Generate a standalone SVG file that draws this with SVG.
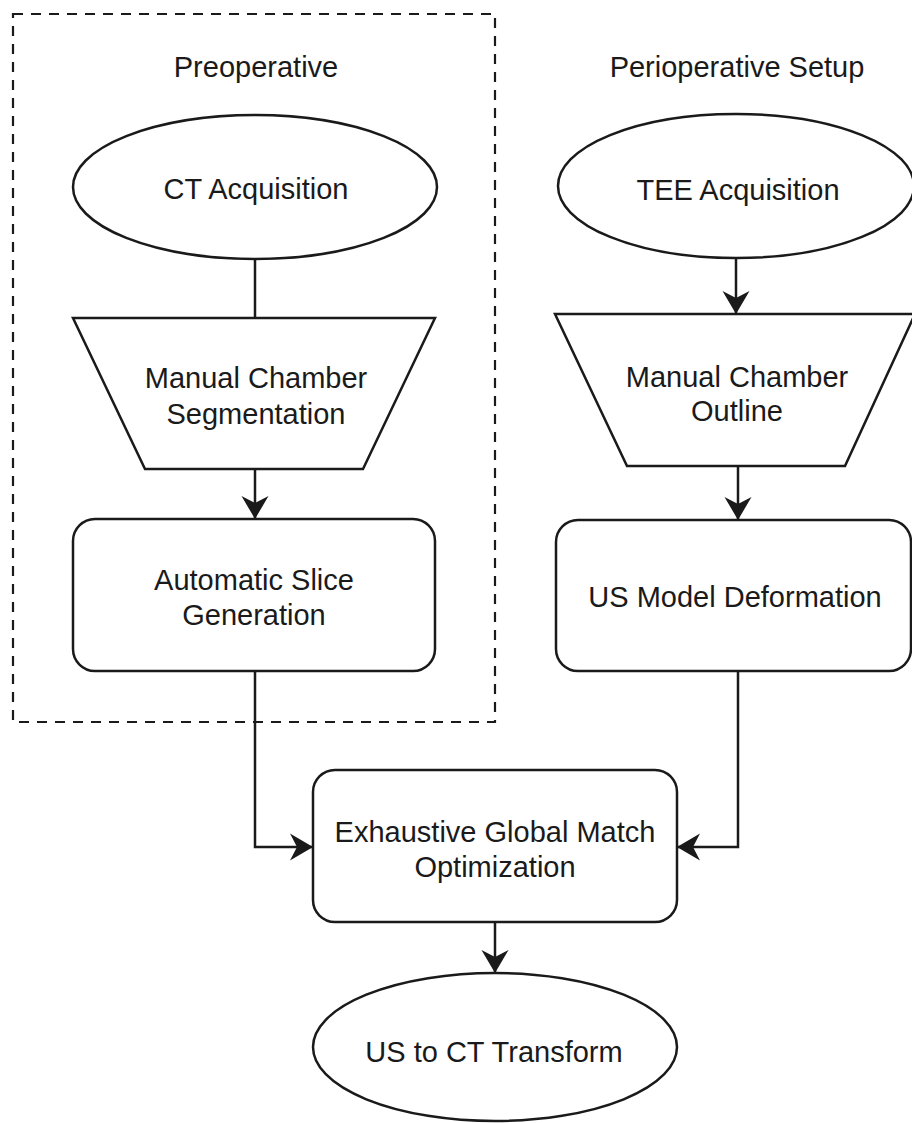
<svg xmlns="http://www.w3.org/2000/svg" width="912" height="1123" viewBox="0 0 912 1123">
  <style>
    .shape { fill: #ffffff; stroke: #1a1a1a; stroke-width: 2.5; }
    .edge { fill: none; stroke: #1a1a1a; stroke-width: 2.5; }
    .group { fill: none; stroke: #1a1a1a; stroke-width: 2.2; stroke-dasharray: 10 8; }
    .label { font-family: "Liberation Sans", Arial, sans-serif; font-size: 29px; fill: #1a1a1a; text-anchor: middle; }
  </style>
  <defs>
    <marker id="arrow" markerUnits="userSpaceOnUse" viewBox="-23 -14 24 28" markerWidth="24" markerHeight="28" refX="0" refY="0" orient="auto">
      <path d="M0,0 L-23,-13.5 L-16,0 L-23,13.5 Z" fill="#1a1a1a"/>
    </marker>
  </defs>

  <rect id="grp-preop" class="group" x="13" y="14" width="482" height="708"/>
  <text id="title-preop" class="label" x="256" y="77">Preoperative</text>
  <text id="title-periop" class="label" x="737" y="77">Perioperative Setup</text>

  <g id="connectors">
    <path class="edge" d="M255,258 L255,318"/>
    <path class="edge" d="M255,469 L255,519" marker-end="url(#arrow)"/>
    <path class="edge" d="M736,258 L736,314" marker-end="url(#arrow)"/>
    <path class="edge" d="M738,466 L738,520" marker-end="url(#arrow)"/>
    <path class="edge" d="M255,672 L255,847 L313,847" marker-end="url(#arrow)"/>
    <path class="edge" d="M738,672 L738,847 L677,847" marker-end="url(#arrow)"/>
    <path class="edge" d="M495,922 L495,973" marker-end="url(#arrow)"/>
  </g>

  <g id="ct-acquisition">
    <ellipse class="shape" cx="255" cy="187" rx="182" ry="72"/>
    <text class="label" x="256" y="199">CT Acquisition</text>
  </g>

  <g id="tee-acquisition">
    <ellipse class="shape" cx="736" cy="186" rx="178" ry="72"/>
    <text class="label" x="738" y="200">TEE Acquisition</text>
  </g>

  <g id="manual-segmentation">
    <path class="shape" d="M73,318 L435,318 L363,469 L145,469 Z"/>
    <text class="label" x="256" y="388">Manual Chamber</text>
    <text class="label" x="256" y="424">Segmentation</text>
  </g>

  <g id="manual-outline">
    <path class="shape" d="M555,314 L915,314 L845,466 L627,466 Z"/>
    <text class="label" x="737" y="387">Manual Chamber</text>
    <text class="label" x="737" y="421">Outline</text>
  </g>

  <g id="slice-generation">
    <rect class="shape" x="73" y="519" width="362" height="152" rx="22" ry="22"/>
    <text class="label" x="254" y="590">Automatic Slice</text>
    <text class="label" x="254" y="625">Generation</text>
  </g>

  <g id="us-deformation">
    <rect class="shape" x="556" y="520" width="355" height="151" rx="22" ry="22"/>
    <text class="label" x="735" y="607">US Model Deformation</text>
  </g>

  <g id="global-match">
    <rect class="shape" x="313" y="770" width="364" height="152" rx="22" ry="22"/>
    <text class="label" x="495" y="842">Exhaustive Global Match</text>
    <text class="label" x="495" y="877">Optimization</text>
  </g>

  <g id="us-ct-transform">
    <ellipse class="shape" cx="495" cy="1047" rx="182" ry="74"/>
    <text class="label" x="494" y="1062">US to CT Transform</text>
  </g>
</svg>
